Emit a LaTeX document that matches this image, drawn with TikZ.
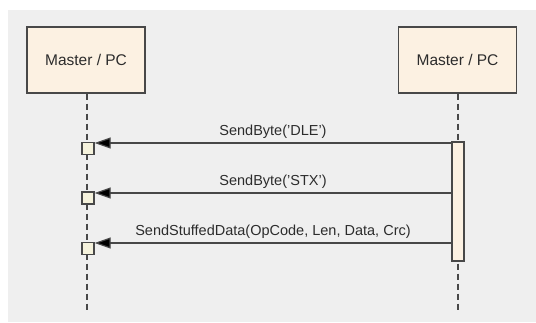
\documentclass[tikz,border=0pt]{standalone}
\usepackage{fontspec}
\setmainfont{Liberation Sans}
\usetikzlibrary{arrows.meta}

\definecolor{bggray}{HTML}{EFEFEF}
\definecolor{boxfill}{HTML}{FCF1E2}
\definecolor{sqfill}{HTML}{F5F2DC}
\definecolor{edge}{HTML}{484848}
\definecolor{ink}{HTML}{2C2C2C}

\tikzset{
  actor/.style={draw=edge, line width=1.4pt, fill=boxfill, minimum width=118pt,
    minimum height=66pt, inner sep=0pt, text=ink, font=\fontsize{15.5}{18}\selectfont},
  actbar/.style={draw=edge, line width=1.3pt, fill=boxfill, minimum width=12pt,
    minimum height=119pt, inner sep=0pt},
  recv/.style={draw=edge, line width=1.3pt, fill=sqfill, minimum size=12pt, inner sep=0pt},
  lifeline/.style={draw=edge, line width=1.2pt, dash pattern=on 6pt off 4pt},
  msg/.style={draw=edge, line width=1.2pt, -{Triangle[length=16pt,width=11pt,fill=black]}},
  msglabel/.style={text=ink, font=\fontsize{14.5}{17}\selectfont, above=1pt, midway}
}

\begin{document}
\begin{tikzpicture}[x=1pt, y=1pt]
    \useasboundingbox (0,0) rectangle (536,322);
    \fill[white] (0,0) rectangle (536,322);
    \fill[bggray] (8,0) rectangle (536,312);

    % the two participants
    \node[actor] (pcleft)  at (86,262)  {Master / PC};
    \node[actor] (pcright) at (457.5,262) {Master / PC};
    \coordinate (leftend)  at (87,10);
    \coordinate (rightend) at (458,10);
    \draw[lifeline] (pcleft.south -| leftend) -- (leftend);
    \draw[lifeline] (pcright.south -| rightend) -- (rightend);

    % activation and receive points
    \node[actbar] (sending) at (458,120.5) {};
    \node[recv] (rx1) at (88,173.5) {};
    \node[recv] (rx2) at (88,124) {};
    \node[recv] (rx3) at (88,73.5) {};

    % messages
    \coordinate (m1) at (0,179);
    \coordinate (m2) at (0,129);
    \coordinate (m3) at (0,79);
    \draw[msg] (sending.west |- m1) -- (rx1.east |- m1)
        node[msglabel] {SendByte('DLE')};
    \draw[msg] (sending.west |- m2) -- (rx2.east |- m2)
        node[msglabel] {SendByte('STX')};
    \draw[msg] (sending.west |- m3) -- (rx3.east |- m3)
        node[msglabel] {SendStuffedData(OpCode, Len, Data, Crc)};
\end{tikzpicture}
\end{document}
